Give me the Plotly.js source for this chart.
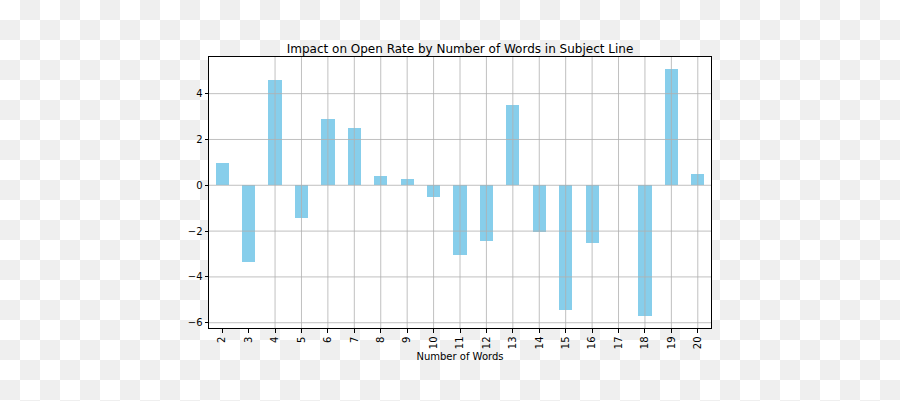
<!DOCTYPE html>
<html>
<head>
<meta charset="utf-8">
<script src="https://cdn.plot.ly/plotly-3.0.1.min.js"></script>
<style>
  html, body { margin: 0; padding: 0; }
  body {
    width: 900px; height: 401px;
    background: repeating-conic-gradient(#efefef 0 25%, #ffffff 0 50%) 0 0 / 40px 40px;
  }
  #chart { width: 900px; height: 401px; }
</style>
</head>
<body>
<div id="chart"></div>
<script>
// number of words in subject line vs change in open rate
const words = ['2', '3', '4', '5', '6', '7', '8', '9', '10', '11', '12', '13', '14', '15', '16', '17', '18', '19', '20']
const impact = [0.96, -3.35, 4.58, -1.43, 2.88, 2.49, 0.39, 0.26, -0.51, -3.04, -2.44, 3.49, -2.02, -5.44, -2.52, 0, -5.70, 5.06, 0.48]

const yTicks = [-6, -4, -2, 0, 2, 4]
const yTickText = ['\u22126', '\u22124', '\u22122', '0', '2', '4']

const chart = () => {
  const data = [
    {
      x: words,
      y: impact,
      type: 'bar',
      width: 0.5,
      marker: { color: '#87ceeb', line: { width: 0 } },
      hoverinfo: 'x+y',
    }
  ]

  const axisFont = { family: 'DejaVu Sans', size: 10, color: '#000' }
  const gridLine = { color: '#b0b0b0', width: 0.8 }

  // grid is drawn on top of the bars in the original, so use shapes
  const shapes = [
    ...words.map(w => ({
      type: 'line', layer: 'above', xref: 'x', yref: 'paper',
      x0: w, x1: w, y0: 0, y1: 1, line: gridLine,
    })),
    ...yTicks.map(v => ({
      type: 'line', layer: 'above', xref: 'paper', yref: 'y',
      x0: 0, x1: 1, y0: v, y1: v, line: gridLine,
    })),
  ]

  const layout = {
    width: 900,
    height: 401,
    margin: { l: 209, r: 189, t: 57, b: 73 },
    paper_bgcolor: 'rgba(0,0,0,0)',
    plot_bgcolor: '#ffffff',
    showlegend: false,
    shapes: shapes,
    title: {
      text: 'Impact on Open Rate by Number of Words in Subject Line',
      font: { family: 'DejaVu Sans', size: 12, color: '#000' },
      x: 0.5,
      xref: 'paper',
      y: 1,
      yref: 'paper',
      yanchor: 'bottom',
      pad: { b: 4 },
    },
    xaxis: {
      type: 'category',
      range: [-0.5, 18.5],
      tickangle: -90,
      tickfont: axisFont,
      ticks: 'outside',
      ticklen: 3.5,
      tickcolor: '#000',
      showgrid: false,
      showline: true,
      linecolor: '#000',
      linewidth: 1,
      mirror: true,
      layer: 'above traces',
      title: { text: 'Number of Words', font: axisFont, standoff: 4 },
    },
    yaxis: {
      range: [-6.23, 5.6],
      tickvals: yTicks,
      ticktext: yTickText,
      tickfont: axisFont,
      ticks: 'outside',
      ticklen: 3.5,
      tickcolor: '#000',
      showgrid: false,
      zeroline: false,
      showline: true,
      linecolor: '#000',
      linewidth: 1,
      mirror: true,
      layer: 'above traces',
    },
    bargap: 0,
  }

  Plotly.newPlot('chart', data, layout, { displayModeBar: false, staticPlot: true })
}

chart()
</script>
</body>
</html>
